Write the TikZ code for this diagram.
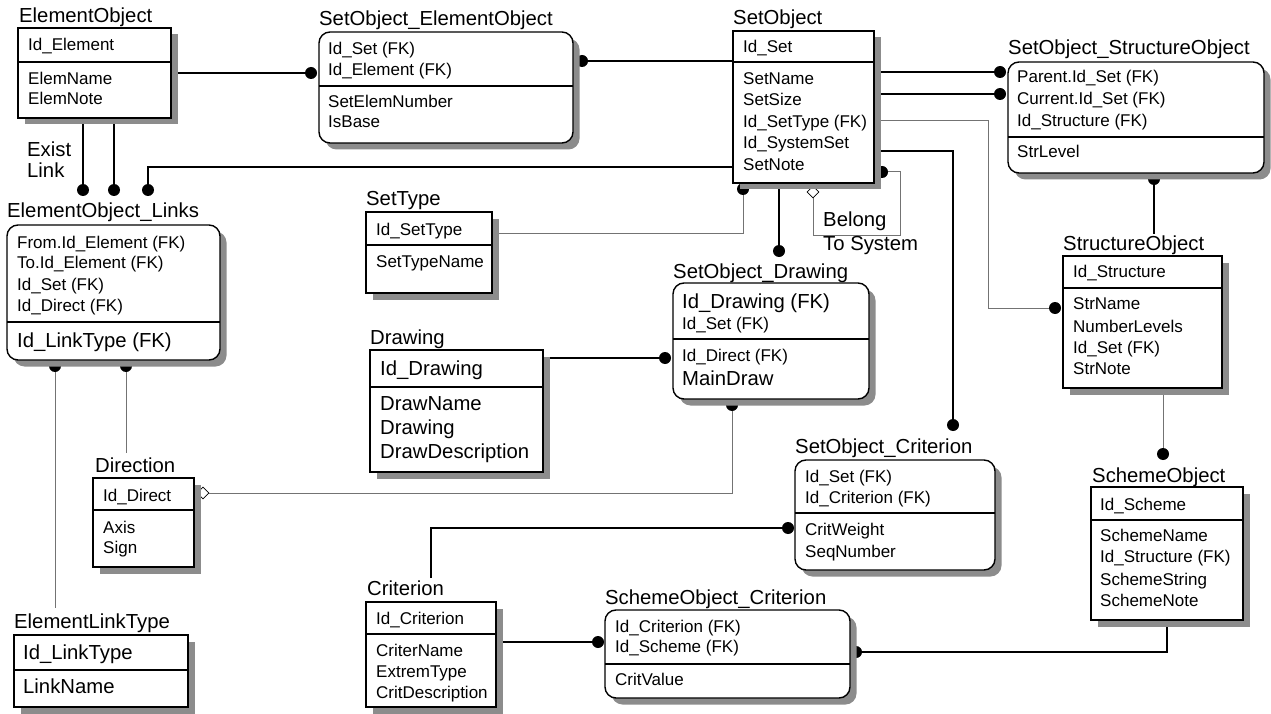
\documentclass[tikz,border=0pt]{standalone}
\usepackage{fontspec}
\setmainfont{Liberation Sans}
\usetikzlibrary{shadows,shapes.geometric,calc}
\pgfdeclarelayer{bg}
\pgfsetlayers{bg,main}
\newcommand\fsm{\fontsize{17}{20}\selectfont}
\newcommand\fbg{\fontsize{20.3}{24}\selectfont}
\tikzset{
 ent/.style={draw=black, line width=1.4pt, fill=white, anchor=north west, inner sep=0pt, outer sep=0pt,
   drop shadow={shadow xshift=6.5pt, shadow yshift=-6.5pt, fill=black!45, opacity=1}},
 rent/.style={ent, rounded corners=11pt},
 sepl/.style={line width=1.2pt},
 ttl/.style={anchor=base west, inner sep=0pt, font=\fbg},
 fld/.style={anchor=base west, inner sep=0pt, font=\fsm},
 big/.style={anchor=base west, inner sep=0pt, font=\fbg},
 rel/.style={line width=1.3pt, black},
 rlg/.style={line width=1pt, black!55},
 dot/.style={circle, fill=black, inner sep=0pt, minimum size=12pt},
 odiam/.style={diamond, draw=black, fill=white, line width=0.8pt, inner sep=0pt, minimum width=12pt, minimum height=12pt},
}
\newcommand\mkent[7]{%
 \node[#2, minimum width={#5pt-#3pt}, minimum height={#6pt-#4pt}] (#1) at (#3,#4) {};
 \draw[sepl] (#1.west |- 0,#7) -- (#1.east |- 0,#7);
}
\begin{document}
\begin{tikzpicture}[x=1pt,y=-1pt]
\useasboundingbox (0,0) rectangle (1271,714);
% entities
\mkent{eo}{ent}{18}{28}{171}{118}{62}
\mkent{soeo}{rent}{319}{32}{573}{143}{86}
\mkent{so}{ent}{733}{31}{874}{183}{62}
\mkent{sso}{rent}{1008}{62}{1264}{173}{137}
\mkent{eol}{rent}{7}{225}{220}{360}{322}
\mkent{st}{ent}{366}{212}{492}{293}{245}
\mkent{sod}{rent}{673}{283}{869}{399}{339}
\mkent{dr}{ent}{370}{350}{543}{472}{387}
\mkent{di}{ent}{93}{478}{194}{567}{510}
\mkent{sto}{ent}{1063}{256}{1222}{388}{288}
\mkent{soc}{rent}{795}{460}{995}{570}{513}
\mkent{cr}{ent}{366}{602}{496}{707}{634}
\mkent{scc}{rent}{605}{610}{850}{698}{664}
\mkent{sc}{ent}{1091}{487}{1243}{620}{520}
\mkent{elt}{ent}{14}{635}{188}{707}{670}
% titles and fields
\node[ttl] (t1) at (19,23) {ElementObject};
\node[fld] (f1a) at (28,51) {Id\_Element};
\node[fld] (f1b) at (28,85) {ElemName};
\node[fld] (f1c) at (28,105) {ElemNote};
\node[ttl] (t2) at (319,26) {SetObject\_ElementObject};
\node[fld] (f2a) at (328,55) {Id\_Set (FK)};
\node[fld] (f2b) at (328,76) {Id\_Element (FK)};
\node[fld] (f2c) at (328,108) {SetElemNumber};
\node[fld] (f2d) at (328,128) {IsBase};
\node[ttl] (t3) at (733,25) {SetObject};
\node[fld] (f3a) at (743,53) {Id\_Set};
\node[fld] (f3b) at (743,85) {SetName};
\node[fld] (f3c) at (743,106) {SetSize};
\node[fld] (f3d) at (743,128) {Id\_SetType (FK)};
\node[fld] (f3e) at (743,149) {Id\_SystemSet};
\node[fld] (f3f) at (743,171) {SetNote};
\node[ttl] (t4) at (1008,55) {SetObject\_StructureObject};
\node[fld] (f4a) at (1017,83) {Parent.Id\_Set (FK)};
\node[fld] (f4b) at (1017,105) {Current.Id\_Set (FK)};
\node[fld] (f4c) at (1017,127) {Id\_Structure (FK)};
\node[fld] (f4d) at (1017,158) {StrLevel};
\node[ttl] (t5) at (7,218) {ElementObject\_Links};
\node[fld] (f5a) at (17,248) {From.Id\_Element (FK)};
\node[fld] (f5b) at (17,268) {To.Id\_Element (FK)};
\node[fld] (f5c) at (17,290) {Id\_Set (FK)};
\node[fld] (f5d) at (17,311) {Id\_Direct (FK)};
\node[big] (f5e) at (17,347) {Id\_LinkType (FK)};
\node[ttl] (t6) at (366,205) {SetType};
\node[fld] (f6a) at (376,235) {Id\_SetType};
\node[fld] (f6b) at (376,267) {SetTypeName};
\node[ttl] (t7) at (673,278) {SetObject\_Drawing};
\node[big] (f7a) at (682,308) {Id\_Drawing (FK)};
\node[fld] (f7b) at (682,329) {Id\_Set (FK)};
\node[fld] (f7c) at (682,361) {Id\_Direct (FK)};
\node[big] (f7d) at (682,385) {MainDraw};
\node[ttl] (t8) at (370,344) {Drawing};
\node[big] (f8a) at (380,375) {Id\_Drawing};
\node[big] (f8b) at (380,410) {DrawName};
\node[big] (f8c) at (380,434) {Drawing};
\node[big] (f8d) at (380,458) {DrawDescription};
\node[ttl] (t9) at (95,472) {Direction};
\node[fld] (f9a) at (103,501) {Id\_Direct};
\node[fld] (f9b) at (103,533) {Axis};
\node[fld] (f9c) at (103,553) {Sign};
\node[ttl] (t10) at (1063,250) {StructureObject};
\node[fld] (f10a) at (1073,277) {Id\_Structure};
\node[fld] (f10b) at (1073,309) {StrName};
\node[fld] (f10c) at (1073,332) {NumberLevels};
\node[fld] (f10d) at (1073,353) {Id\_Set (FK)};
\node[fld] (f10e) at (1073,374) {StrNote};
\node[ttl] (t11) at (795,453) {SetObject\_Criterion};
\node[fld] (f11a) at (805,482) {Id\_Set (FK)};
\node[fld] (f11b) at (805,503) {Id\_Criterion (FK)};
\node[fld] (f11c) at (805,535) {CritWeight};
\node[fld] (f11d) at (805,557) {SeqNumber};
\node[ttl] (t12) at (367,595) {Criterion};
\node[fld] (f12a) at (376,624) {Id\_Criterion};
\node[fld] (f12b) at (376,656) {CriterName};
\node[fld] (f12c) at (376,677) {ExtremType};
\node[fld] (f12d) at (376,698) {CritDescription};
\node[ttl] (t13) at (605,604) {SchemeObject\_Criterion};
\node[fld] (f13a) at (615,632) {Id\_Criterion (FK)};
\node[fld] (f13b) at (615,652) {Id\_Scheme (FK)};
\node[fld] (f13c) at (615,685) {CritValue};
\node[ttl] (t14) at (1092,482) {SchemeObject};
\node[fld] (f14a) at (1100,510) {Id\_Scheme};
\node[fld] (f14b) at (1100,541) {SchemeName};
\node[fld] (f14c) at (1100,562) {Id\_Structure (FK)};
\node[fld] (f14d) at (1100,585) {SchemeString};
\node[fld] (f14e) at (1100,606) {SchemeNote};
\node[ttl] (t15) at (14,628) {ElementLinkType};
\node[big] (f15a) at (23,659) {Id\_LinkType};
\node[big] (f15b) at (23,693) {LinkName};
% relationship labels
\node[big] (lb1) at (27,157) {Exist};
\node[big] (lb2) at (27,178) {Link};
\node[big] (lb3) at (823,226) {Belong};
\node[big] (lb4) at (823,250) {To System};
% connectors
\begin{pgfonlayer}{bg}
\fill[white] (0,0) rectangle (1271,714);
\node[dot] (d1) at (311,73) {}; \draw[rel] (eo.east |- d1) -- (d1);
\node[dot] (d2) at (582,61) {}; \draw[rel] (so.west |- d2) -- (d2);
\node[dot] (d3) at (83,190) {}; \draw[rel] (d3 |- eo.south) -- (d3);
\node[dot] (d4) at (114,190) {}; \draw[rel] (d4 |- eo.south) -- (d4);
\node[dot] (d5) at (148,190) {}; \coordinate (c5) at (148,167);
\draw[rel] (so.west |- c5) -- (c5) -- (d5);
\node[dot] (d6) at (1000,72) {}; \draw[rel] (so.east |- d6) -- (d6);
\node[dot] (d7) at (1000,94) {}; \draw[rel] (so.east |- d7) -- (d7);
\node[dot] (d8) at (1055,308) {}; \coordinate (c8) at (988,121);
\draw[rlg] (so.east |- c8) -- (c8) |- (d8);
\node[dot] (d9) at (953,425) {}; \coordinate (c9) at (953,151);
\draw[rel] (so.east |- c9) -- (c9) -- (d9);
\node[dot] (d10) at (882,172) {}; \node[odiam] (m1) at (813,192) {};
\coordinate (c10a) at (900,172); \coordinate (c10b) at (900,235);
\draw[rlg] (d10) -- (c10a) -- (c10b) -| (m1);
\node[dot] (d11) at (743,189) {}; \coordinate (c11) at (743,233);
\draw[rlg] (d11) -- (c11) -- (st.east |- c11);
\node[dot] (d12) at (779,251) {}; \draw[rel] (d12 |- so.south) -- (d12);
\node[dot] (d13) at (1154,179) {}; \coordinate (c13) at (1154,234);
\draw[rel] (d13) -- (c13);
\node[dot] (d14) at (665,358) {}; \draw[rel] (dr.east |- d14) -- (d14);
\node[dot] (d15) at (732,405) {}; \node[odiam] (m2) at (203,493) {};
\coordinate (c15) at (732,493);
\draw[rlg] (d15) -- (c15) -- (m2);
\node[dot] (d16) at (126,366) {}; \coordinate (c16) at (126,453);
\draw[rlg] (d16) -- (c16);
\node[dot] (d17) at (55,366) {}; \coordinate (c17) at (55,608);
\draw[rlg] (d17) -- (c17);
\node[dot] (d18) at (1163,454) {}; \draw[rlg] (d18 |- sto.south) -- (d18);
\node[dot] (d19) at (788,528) {}; \coordinate (c19) at (431,578);
\draw[rel] (c19) |- (d19);
\node[dot] (d20) at (598,642) {}; \draw[rel] (cr.east |- d20) -- (d20);
\node[dot] (d21) at (856,652) {}; \coordinate (c21) at (1167,652);
\draw[rel] (d21) -- (c21) -- (c21 |- sc.south);
\end{pgfonlayer}
\end{tikzpicture}
\end{document}
